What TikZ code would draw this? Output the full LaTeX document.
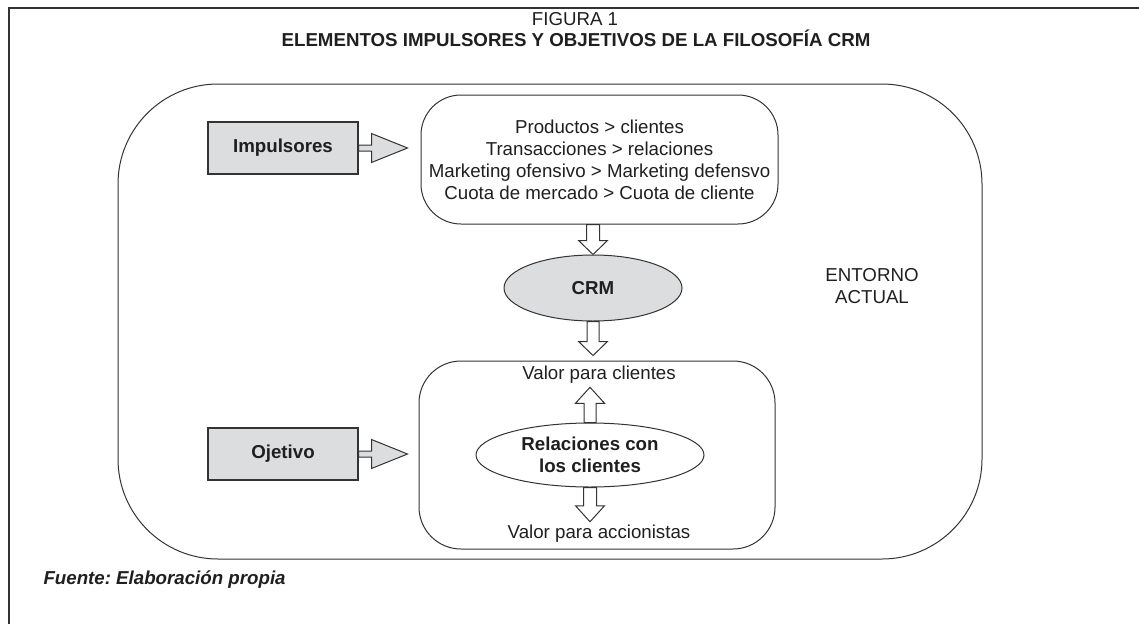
\documentclass[tikz,border=0pt]{standalone}
\usepackage{fontspec}
\setmainfont{Liberation Sans}
\usetikzlibrary{shapes.geometric,calc}
\definecolor{boxgray}{HTML}{DCDDDE}
\definecolor{linegray}{HTML}{333333}
\frenchspacing

\begin{document}
\begin{tikzpicture}[x=1pt, y=-1pt,
  every node/.style={font=\fontsize{18.7}{22}\selectfont, text=black!88},
  lbox/.style={draw=linegray, fill=boxgray, line width=1.3pt, minimum width=150pt, minimum height=52pt, font=\fontsize{18.7}{22}\selectfont\bfseries},
  rbox/.style={draw=linegray, line width=1pt, rounded corners=40pt, align=center, inner sep=0pt},
  oval/.style={ellipse, draw=linegray, line width=1pt, inner sep=1pt, align=center, font=\fontsize{18.7}{22}\selectfont\bfseries},
  fat/.style n args={3}{to path={
    ($(\tikztotarget)!#3!(\tikztostart)$) coordinate (fat b)
    ($(\tikztostart)!#1!90:(\tikztotarget)$) -- ($(fat b)!#1!-90:(\tikztostart)$)
    -- ($(fat b)!#2!-90:(\tikztostart)$) -- (\tikztotarget)
    -- ($(fat b)!#2!90:(\tikztostart)$) -- ($(fat b)!#1!90:(\tikztostart)$)
    -- ($(\tikztostart)!#1!-90:(\tikztotarget)$) -- cycle}},
  fatline/.style={draw=linegray, line width=1pt, fill=white}
]
\useasboundingbox (0,0) rectangle (1139,624);
\draw[linegray, line width=1.5pt] (9,624) -- (9,8) -- (1139,8);

\node[anchor=base] (fig) at (575,25) {FIGURA 1};
\node[anchor=base, font=\fontsize{18.7}{22}\selectfont\bfseries] (title) at (576,46) {ELEMENTOS IMPULSORES Y OBJETIVOS DE LA FILOSOFÍA CRM};

\node[rbox, rounded corners=100pt, minimum width=864pt, minimum height=475pt] (env) at (550,321.5) {};
\node[align=center] (envlbl) at (872,286) {ENTORNO\\ACTUAL};

\node[rbox, minimum width=357pt, minimum height=129pt] (drv) at (599.5,159.5) {Productos > clientes\\Transacciones > relaciones\\Marketing ofensivo > Marketing defensvo\\Cuota de mercado > Cuota de cliente};
\node[lbox] (imp) at (283,148) {Impulsores};
\node[lbox] (obj) at (283,454) {Ojetivo};

\node[oval, fill=boxgray, minimum width=178pt, minimum height=66pt] (crm) at (593,288) {CRM};
\node[rbox, rounded corners=42pt, minimum width=356pt, minimum height=188pt] (goal) at (597,455) {};
\node[oval, fill=white, minimum width=228pt, minimum height=64pt] (rel) at (590,455) {Relaciones con\\los clientes};
\node (vcli) at (599,375) {Valor para clientes};
\node (vacc) at (599,534) {Valor para accionistas};

% flechas
\coordinate (impt) at ($(imp.east -| drv.west)+(-13,0)$);
\coordinate (objt) at ($(obj.east -| goal.west)+(-11,0)$);
\coordinate (crmt) at ($(crm.south |- goal.north)+(0,-5)$);
\draw[fatline, fill=boxgray] (imp.east) to[fat={3pt}{14.5pt}{36pt}] (impt);
\draw[fatline, fill=boxgray] (obj.east) to[fat={3pt}{14.5pt}{36pt}] (objt);
\draw[fatline] (crm.north |- drv.south) to[fat={6.5pt}{14.5pt}{14pt}] (crm.north);
\draw[fatline] (crm.south) to[fat={6pt}{14.5pt}{14pt}] (crmt);
\draw[fatline] (rel.north) to[fat={6pt}{14.5pt}{16pt}] (rel.north |- vcli.south);
\draw[fatline] (rel.south) to[fat={6.5pt}{14.5pt}{16pt}] (rel.south |- vacc.north);

\node[anchor=base west, font=\fontsize{18.7}{22}\selectfont\bfseries\itshape] (src) at (40,584) {Fuente: Elaboración propia};
\end{tikzpicture}
\end{document}
